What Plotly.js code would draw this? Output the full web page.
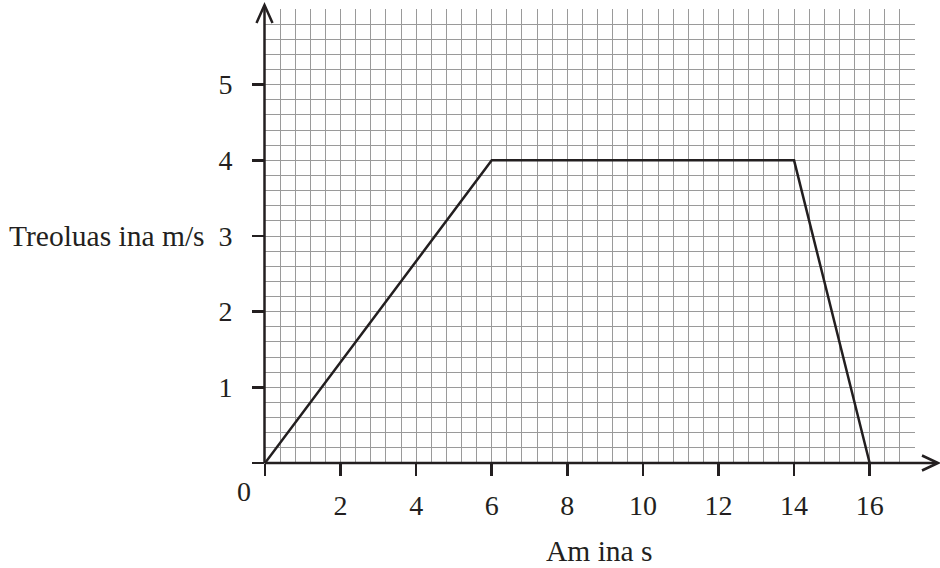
<!DOCTYPE html>
<html>
<head>
<meta charset="utf-8">
<script src="https://cdn.plot.ly/plotly-3.0.1.min.js"></script>
<style>html,body{margin:0;padding:0;background:#fff;}#chart{width:940px;height:568px;}</style>
</head>
<body>
<div id="chart"></div>
<script>
// Data
const timeS = [0, 6, 14, 16];
const speedMS = [0, 4, 4, 0];
const xTickVals = [0, 2, 4, 6, 8, 10, 12, 14, 16];
const xTickText = ['', '2', '4', '6', '8', '10', '12', '14', '16'];
const yTickVals = [0, 1, 2, 3, 4, 5];
const yTickText = ['', '1', '2', '3', '4', '5'];
const xLabel = 'Am ina s';
const yLabel = 'Treoluas ina m/s';
const originLabel = '0';

const ink = '#231f20';
const gridCol = '#9a9a9a';
const fontFam = 'Liberation Serif, serif';
const fs = 28;
const fsLabel = 29.5;

// Layout geometry (pixels)
const W = 940, H = 568;
const mL = 265, mT = 9, plotW = 650, plotH = 454;
const mR = W - mL - plotW, mB = H - mT - plotH;
const px = v => (v - mL) / plotW;          // pixel x -> paper x
const py = v => (mT + plotH - v) / plotH;  // pixel y -> paper y

const trace = {
  x: timeS, y: speedMS, type: 'scatter', mode: 'lines',
  line: {color: ink, width: 2.5}, hoverinfo: 'skip', cliponaxis: false
};

const axLine = {color: ink, width: 2.5};
const shapes = [
  // y axis with open arrow head
  {type: 'line', xref: 'paper', yref: 'paper', x0: px(264.5), x1: px(264.5), y0: py(463), y1: py(6), line: axLine},
  {type: 'path', xref: 'paper', yref: 'paper',
   path: `M ${px(256.5)} ${py(23)} L ${px(264.5)} ${py(5)} L ${px(272.5)} ${py(23)}`, line: axLine},
  // x axis with open arrow head
  {type: 'line', xref: 'paper', yref: 'paper', x0: px(264.5), x1: px(937), y0: py(463), y1: py(463), line: axLine},
  {type: 'path', xref: 'paper', yref: 'paper',
   path: `M ${px(922)} ${py(455.5)} L ${px(938)} ${py(463)} L ${px(922)} ${py(470.5)}`, line: axLine}
];

const layout = {
  width: W, height: H,
  margin: {l: mL, r: mR, t: mT, b: mB, pad: 0},
  paper_bgcolor: '#fff', plot_bgcolor: '#fff',
  showlegend: false,
  font: {family: fontFam, size: fs, color: ink},
  xaxis: {
    range: [0, 17.2], fixedrange: true,
    tickvals: xTickVals, ticktext: xTickText,
    ticks: 'outside', ticklen: 12, tickwidth: 2.5, tickcolor: ink,
    ticklabelstandoff: 5,
    tickfont: {family: fontFam, size: fs, color: ink},
    showgrid: true, gridcolor: gridCol, gridwidth: 1,
    minor: {dtick: 0.4, tick0: 0, showgrid: true, gridcolor: gridCol, gridwidth: 1, ticks: ''},
    zeroline: false, showline: false
  },
  yaxis: {
    range: [0, 6], fixedrange: true,
    tickvals: yTickVals, ticktext: yTickText,
    ticks: 'outside', ticklen: 12, tickwidth: 2.5, tickcolor: ink,
    ticklabelstandoff: 14,
    tickfont: {family: fontFam, size: fs, color: ink},
    showgrid: true, gridcolor: gridCol, gridwidth: 1,
    minor: {dtick: 0.2, tick0: 0, showgrid: true, gridcolor: gridCol, gridwidth: 1, ticks: ''},
    zeroline: false, showline: false
  },
  shapes: shapes,
  annotations: [
    {text: yLabel, xref: 'paper', yref: 'y', x: px(207), y: 3, xanchor: 'right', yanchor: 'middle',
     showarrow: false, font: {family: fontFam, size: fsLabel, color: ink}},
    {text: xLabel, xref: 'paper', yref: 'paper', x: px(599), y: py(551), xanchor: 'center', yanchor: 'middle',
     showarrow: false, font: {family: fontFam, size: fsLabel, color: ink}},
    {text: originLabel, xref: 'paper', yref: 'paper', x: px(244), y: py(491.5), xanchor: 'center', yanchor: 'middle',
     showarrow: false, font: {family: fontFam, size: fs, color: ink}}
  ]
};

Plotly.newPlot('chart', [trace], layout, {staticPlot: true, displayModeBar: false});
</script>
</body>
</html>
